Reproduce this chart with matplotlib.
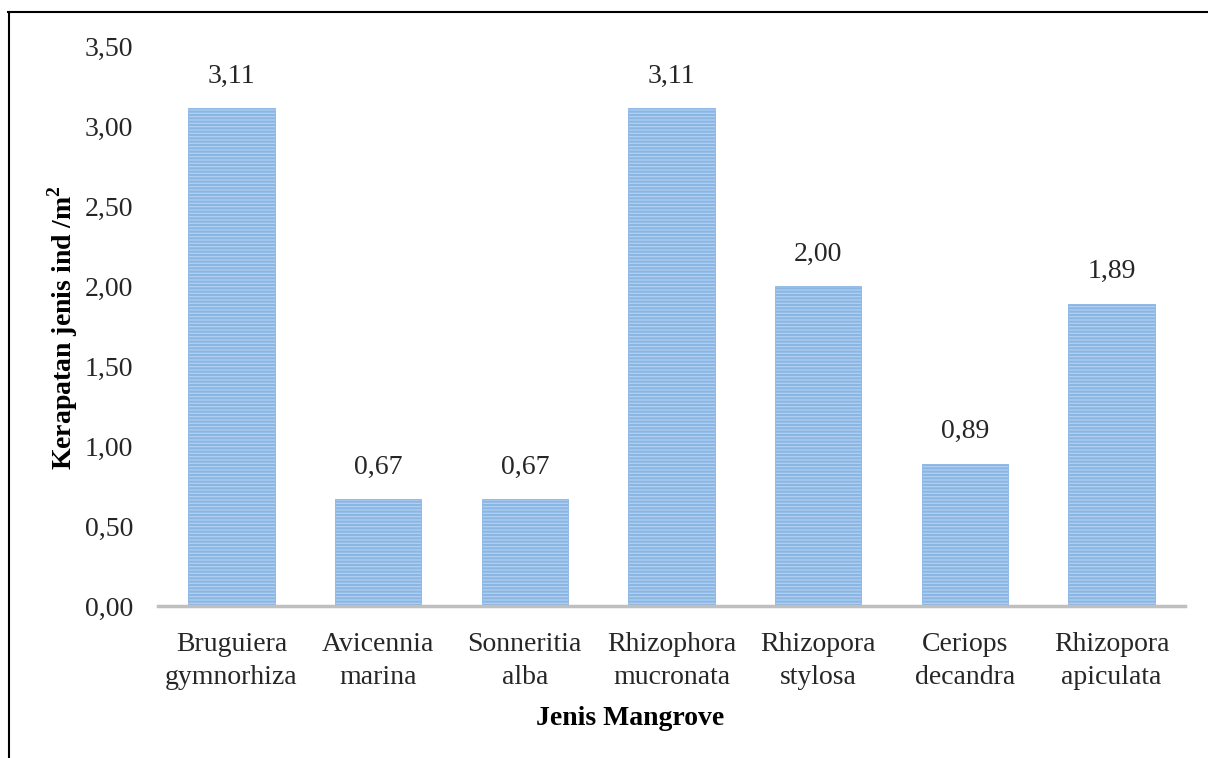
import matplotlib
matplotlib.use("Agg")
import matplotlib.pyplot as plt
from matplotlib.lines import Line2D

categories = ["Bruguiera\ngymnorhiza", "Avicennia\nmarina", "Sonneritia\nalba",
              "Rhizophora\nmucronata", "Rhizopora\nstylosa", "Ceriops\ndecandra",
              "Rhizopora\napiculata"]
values = [3.11, 0.67, 0.67, 3.11, 2.00, 0.89, 1.89]
yticks = [0.0, 0.5, 1.0, 1.5, 2.0, 2.5, 3.0, 3.5]

plt.rcParams['font.family'] = ['Liberation Serif', 'DejaVu Serif']
plt.rcParams['mathtext.fontset'] = 'custom'
plt.rcParams['mathtext.rm'] = 'Liberation Serif'
plt.rcParams['mathtext.bf'] = 'Liberation Serif:bold'
plt.rcParams['hatch.linewidth'] = 1.5
plt.rcParams['hatch.color'] = '#6A9FDA'

W, H = 1208, 758
fig = plt.figure(figsize=(W/100, H/100), dpi=100)
ax = fig.add_axes([158/W, 1-606/H, (1185-158)/W, (606-46)/H])

x = list(range(len(categories)))
bars = ax.bar(x, values, width=0.59, color='#B2D0F0', edgecolor='#8AB6E4',
              linewidth=0.6, hatch='-----', zorder=2)

for xi, v in zip(x, values):
    ax.text(xi, v + 0.12, f"{v:.2f}".replace('.', ','), ha='center', va='bottom',
            fontsize=20, color='#262626')

ax.set_xlim(-0.5, len(categories) - 0.5)
ax.set_ylim(0, 3.5)
ax.set_yticks(yticks)
ax.set_yticklabels([f"{t:.2f}".replace('.', ',') for t in yticks])
ax.set_xticks(x)
ax.set_xticklabels(categories, linespacing=1.4)
ax.tick_params(axis='both', length=0, labelsize=20, colors='#262626')
ax.tick_params(axis='y', pad=18)
ax.tick_params(axis='x', pad=19)

for s in ['top', 'right', 'left']:
    ax.spines[s].set_visible(False)
ax.spines['bottom'].set_color('#BFBFBF')
ax.spines['bottom'].set_linewidth(2.5)
ax.spines['bottom'].set_zorder(3)

ax.set_xlabel("Jenis Mangrove", fontsize=20, fontweight='bold')
ax.xaxis.set_label_coords((630-158)/1027, (606-706)/560)
ax.set_ylabel(r"Kerapatan jenis ind /m$^\mathbf{2}$", fontsize=20, fontweight='bold')
ax.yaxis.set_label_coords((80-158)/1027, (606-328)/560)

# outer border (left and top)
fig.add_artist(Line2D([8.5/W, 8.5/W], [0, 1-11.5/H], transform=fig.transFigure,
                      color='black', linewidth=1.5))
fig.add_artist(Line2D([8/W, 1], [1-11.5/H, 1-11.5/H], transform=fig.transFigure,
                      color='black', linewidth=1.5))

fig.savefig("out.png", dpi=100)
